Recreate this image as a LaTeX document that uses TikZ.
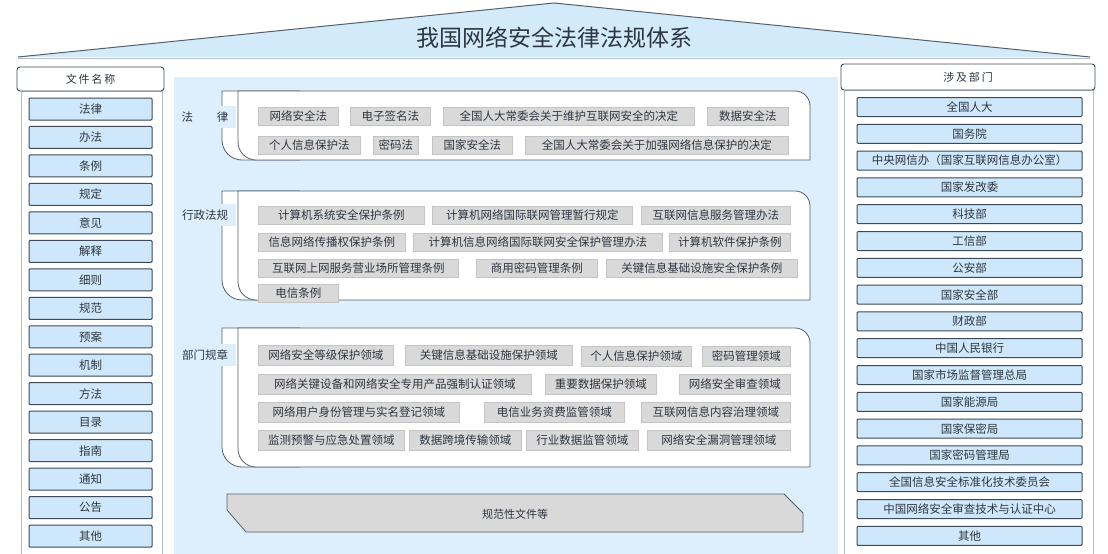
\documentclass[tikz,border=0pt]{standalone}
\usepackage{fontspec}
\setmainfont{Noto Sans CJK SC}
\definecolor{panelblue}{HTML}{DDEFFC}
\definecolor{roofblue}{HTML}{D3EAFB}
\definecolor{itemblue}{HTML}{CFE7FA}
\definecolor{itemborder}{HTML}{3C4A5A}
\definecolor{chipfill}{HTML}{D9D9D9}
\definecolor{chipborder}{HTML}{C4C4C4}
\definecolor{txt}{HTML}{2E3642}
\definecolor{boxline}{HTML}{56606B}
\definecolor{colline}{HTML}{B8BDC4}
\newcommand\secshape[2]{%
  \draw[secfront] (222,#1) -- (300,#1) -- (300,#2) -- (242,#2) arc[start angle=90,end angle=180,radius=20] -- cycle;
  \draw[secfront] (238,#1) -- (795,#1) arc[start angle=-90,end angle=0,radius=15] -- (810,#2) -- (256,#2) arc[start angle=90,end angle=180,radius=18] -- cycle;
}
\begin{document}
\begin{tikzpicture}[x=1pt,y=-1pt,
  chip/.style={draw=chipborder, fill=chipfill, line width=0.6pt, minimum height=18pt, inner sep=0pt, anchor=west, font=\fontsize{11.5}{12}\selectfont, text=txt},
  litem/.style={draw=itemborder, fill=itemblue, line width=1pt, minimum width=123pt, minimum height=22pt, inner sep=0pt, font=\fontsize{11.5}{12}\selectfont, text=txt, rounded corners=1pt},
  ritem/.style={litem, minimum width=225pt, minimum height=19pt},
  header/.style={draw=itemborder, fill=white, line width=0.9pt, rounded corners=3pt, inner sep=0pt, font=\fontsize{11}{12}\selectfont, text=txt},
  secfront/.style={draw=boxline, fill=white, line width=0.8pt},
  seclabel/.style={fill=panelblue, minimum width=62pt, minimum height=22pt, inner sep=0pt, font=\fontsize{11.5}{12}\selectfont, text=txt},
]
\useasboundingbox (0,0) rectangle (1108,554);
\fill[white] (0,0) rectangle (1108,554);
% roof
\fill[roofblue] (18,57) -- (554,3) -- (1090,57) -- cycle;
\draw[boxline, line width=1pt] (18,57) -- (554,3) -- (1090,57);
\draw[colline, line width=0.6pt] (18,58) -- (1090,58);
\node[font=\fontsize{23}{25}\selectfont, text=txt] (title) at (554,38) {我国网络安全法律法规体系};
% centre panel
\fill[panelblue] (174,77) rectangle (838,554);
% side columns
\draw[colline, fill=white, line width=0.8pt] (21,91) rectangle (162,560);
\draw[colline, fill=white, line width=0.8pt] (844,90) rectangle (1093,560);
\node[header, minimum width=147pt, minimum height=24pt] (lhead) at (90.5,79) {文\,件\,名\,称};
\node[header, minimum width=254pt, minimum height=26pt] (rhead) at (968,77) {涉\,及\,部\,门};
\foreach \t [count=\i from 0] in {法律,办法,条例,规定,意见,解释,细则,规范,预案,机制,方法,目录,指南,通知,公告,其他}
  \node[litem] (L\i) at (90.5,{109+28.47*\i}) {\t};
\foreach \t [count=\i from 0] in {全国人大,国务院,中央网信办（国家互联网信息办公室）,国家发改委,科技部,工信部,公安部,国家安全部,财政部,中国人民银行,国家市场监督管理总局,国家能源局,国家保密局,国家密码管理局,全国信息安全标准化技术委员会,中国网络安全审查技术与认证中心,其他}
  \node[ritem] (R\i) at (969.5,{107+26.8*\i}) {\t};
% sections
\secshape{91}{160}
\secshape{191}{300}
\secshape{328}{467}
\node[seclabel] (lab1) at (205,117) {法\hspace{24pt}律};
\node[seclabel] (lab2) at (205,215) {行政法规};
\node[seclabel] (lab3) at (205,355) {部门规章};
% section 1
\node[chip, minimum width=80pt] (a1) at (258,116) {网络安全法};
\node[chip, minimum width=80pt] (a2) at (350,116) {电子签名法};
\node[chip, minimum width=251pt] (a3) at (443,116) {全国人大常委会关于维护互联网安全的决定};
\node[chip, minimum width=81pt] (a4) at (707,116) {数据安全法};
\node[chip, minimum width=102pt] (a5) at (258,145) {个人信息保护法};
\node[chip, minimum width=45pt] (a6) at (373,145) {密码法};
\node[chip, minimum width=80pt] (a7) at (432,145) {国家安全法};
\node[chip, minimum width=263pt] (a8) at (525,145) {全国人大常委会关于加强网络信息保护的决定};
% section 2
\node[chip, minimum width=166pt] (b1) at (258,215) {计算机系统安全保护条例};
\node[chip, minimum width=200pt] (b2) at (432,215) {计算机网络国际联网管理暂行规定};
\node[chip, minimum width=149pt] (b3) at (641,215) {互联网信息服务管理办法};
\node[chip, minimum width=147pt] (b4) at (258,242) {信息网络传播权保护条例};
\node[chip, minimum width=249pt] (b5) at (413,242) {计算机信息网络国际联网安全保护管理办法};
\node[chip, minimum width=121pt] (b6) at (669,242) {计算机软件保护条例};
\node[chip, minimum width=200pt] (b7) at (258,268) {互联网上网服务营业场所管理条例};
\node[chip, minimum width=121pt] (b8) at (476,268) {商用密码管理条例};
\node[chip, minimum width=191pt] (b9) at (606,268) {关键信息基础设施安全保护条例};
\node[chip, minimum width=80pt] (b10) at (258,293) {电信条例};
% section 3
\node[chip, minimum width=135pt, minimum height=20pt] (c1) at (258,355) {网络安全等级保护领域};
\node[chip, minimum width=167pt, minimum height=20pt] (c2) at (405,355) {关键信息基础设施保护领域};
\node[chip, minimum width=110pt, minimum height=20pt] (c3) at (581,356) {个人信息保护领域};
\node[chip, minimum width=88pt, minimum height=20pt] (c4) at (702,356) {密码管理领域};
\node[chip, minimum width=273pt, minimum height=20pt] (c5) at (258,384) {网络关键设备和网络安全专用产品强制认证领域};
\node[chip, minimum width=111pt, minimum height=20pt] (c6) at (545,384) {重要数据保护领域};
\node[chip, minimum width=111pt, minimum height=20pt] (c7) at (679,384) {网络安全审查领域};
\node[chip, minimum width=201pt, minimum height=20pt] (c8) at (258,412) {网络用户身份管理与实名登记领域};
\node[chip, minimum width=140pt, minimum height=20pt] (c9) at (484,412) {电信业务资费监管领域};
\node[chip, minimum width=149pt, minimum height=20pt] (c10) at (641,412) {互联网信息内容治理领域};
\node[chip, minimum width=146pt, minimum height=20pt] (c11) at (258,440) {监测预警与应急处置领域};
\node[chip, minimum width=112pt, minimum height=20pt] (c12) at (409,440) {数据跨境传输领域};
\node[chip, minimum width=112pt, minimum height=20pt] (c13) at (526,440) {行业数据监管领域};
\node[chip, minimum width=143pt, minimum height=20pt] (c14) at (647,440) {网络安全漏洞管理领域};
% bottom band
\draw[fill=chipfill, draw=boxline, line width=0.8pt] (227,494) -- (784,494) -- (803,513) -- (803,532) -- (246,532) -- (227,510) -- cycle;
\node[font=\fontsize{11}{12}\selectfont, text=txt] (norm) at (515,514) {规范性文件等};
\end{tikzpicture}
\end{document}
